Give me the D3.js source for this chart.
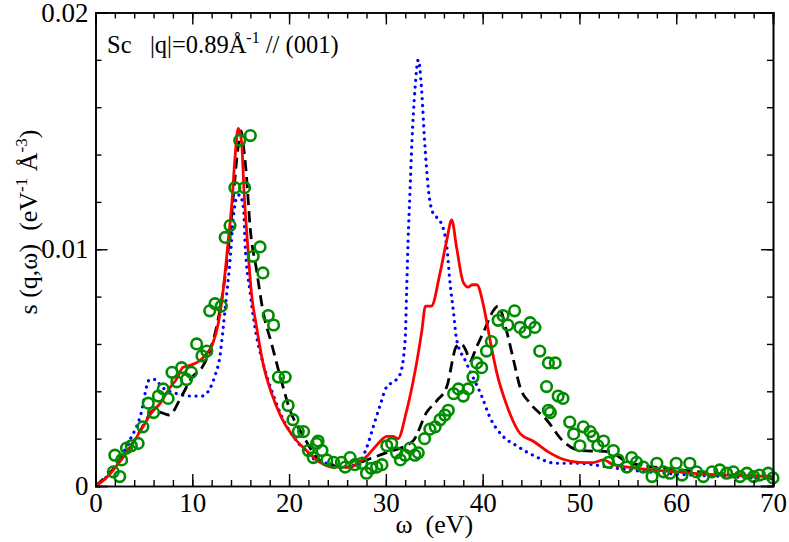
<!DOCTYPE html>
<html>
<head>
<meta charset="utf-8">
<script src="https://cdn.jsdelivr.net/npm/d3@7"></script>
<style>
  body { margin: 0; background: #fff; }
  svg text { font-family: "Liberation Serif", "Times New Roman", serif; fill: #000; }
</style>
</head>
<body>
<svg id="chart" width="789" height="542"></svg>
<script>
// values: omega (eV) and s(q,w)
const redX = [0, 1, 2, 3, 4, 4.9, 5.8, 6.7, 7.6, 8.5, 9.0, 9.8, 10.8, 11.5, 12.1, 12.7, 13.2, 13.7, 14.1, 14.4, 14.75, 15.1, 15.35, 15.7, 16.1, 16.65, 17.3, 18.2, 19.2, 20.4, 21.8, 23.2, 24.5, 26.3, 27.2, 28.0, 29.0, 30.1, 30.7, 31.25, 32.1, 33.0, 33.7, 34.1, 34.7, 35.6, 36.3, 36.8, 37.3, 38.0, 38.5, 38.9, 39.4, 40.1, 40.75, 41.45, 42.5, 43.9, 45.2, 46.95, 48.3, 50, 51.4, 52.5, 53.5, 55, 57, 60, 63, 66, 70];
const redY = [0, 0.0003, 0.00076, 0.0013, 0.0019, 0.0025, 0.0031, 0.0035, 0.0041, 0.0046, 0.005, 0.0051, 0.0053, 0.0056, 0.006, 0.0069, 0.0083, 0.0103, 0.012, 0.0138, 0.0151, 0.0145, 0.0124, 0.0103, 0.0082, 0.0067, 0.0052, 0.0039, 0.0029, 0.0021, 0.0015, 0.001, 0.0008, 0.0008, 0.001, 0.00124, 0.0017, 0.0021, 0.0021, 0.002, 0.0031, 0.0048, 0.0065, 0.0076, 0.0076, 0.009, 0.0104, 0.01124, 0.0101, 0.0086, 0.0084, 0.0085, 0.0085, 0.0076, 0.0062, 0.0048, 0.0034, 0.0022, 0.0019, 0.0014, 0.00113, 0.001, 0.00099, 0.0011, 0.0009, 0.0008, 0.0007, 0.0006, 0.0005, 0.00045, 0.0004];

const blackX = [0, 2, 4, 5, 6, 6.8, 7.6, 8.9, 10, 11, 11.8, 12.5, 13.2, 13.8, 14.3, 14.7, 15.05, 15.3, 15.6, 15.96, 16.65, 17.3, 18.2, 19.1, 20.1, 21.5, 22.85, 24, 26, 28, 30, 32.8, 34.2, 35.25, 36.3, 37.3, 37.8, 38.3, 38.7, 39.4, 40.2, 41.1, 41.6, 42.5, 43.2, 43.85, 44.9, 46.6, 48.3, 50.05, 53.1, 55, 60, 65, 70];
const blackY = [0, 0.0008, 0.0019, 0.0026, 0.0032, 0.0031, 0.003, 0.0038, 0.0046, 0.005, 0.0057, 0.0067, 0.0083, 0.0103, 0.0125, 0.0142, 0.015, 0.0143, 0.0131, 0.011, 0.0091, 0.0074, 0.006, 0.0046, 0.0032, 0.0021, 0.0012, 0.0009, 0.0008, 0.0011, 0.0014, 0.0019, 0.0031, 0.0036, 0.0042, 0.0059, 0.006, 0.0057, 0.0053, 0.0059, 0.0066, 0.0074, 0.0076, 0.0065, 0.0053, 0.0042, 0.0035, 0.0028, 0.0019, 0.0015, 0.00145, 0.001, 0.0007, 0.0005, 0.0004];

const blueX = [0, 2, 3.5, 4.6, 5.6, 6.2, 6.8, 8.4, 9.8, 11.0, 11.8, 12.3, 12.9, 13.2, 13.55, 13.9, 14.2, 14.6, 14.9, 15.3, 15.45, 16, 16.65, 17.3, 18.4, 19.4, 20.8, 22, 23.5, 24.5, 25.5, 27, 28, 28.7, 29.4, 30.1, 30.8, 31.45, 32, 32.15, 32.3, 32.5, 32.7, 33.0, 33.35, 33.7, 34.0, 34.4, 34.9, 35.6, 36.3, 36.6, 37, 37.3, 38.2, 39.0, 39.9, 40.75, 42.1, 43.5, 45.2, 47.6, 50, 51.4, 53.8, 57, 60, 65, 70];
const blueY = [0, 0.0008, 0.0019, 0.0029, 0.0045, 0.0045, 0.0042, 0.0039, 0.0038, 0.0038, 0.0041, 0.0046, 0.0056, 0.0067, 0.0081, 0.0095, 0.0112, 0.0122, 0.0123, 0.0117, 0.0103, 0.0081, 0.0063, 0.0052, 0.0038, 0.0028, 0.0019, 0.0013, 0.001, 0.0009, 0.0008, 0.0009, 0.0016, 0.0025, 0.0034, 0.0042, 0.0044, 0.0047, 0.0062, 0.0083, 0.0104, 0.0125, 0.0146, 0.0167, 0.018, 0.0167, 0.0146, 0.0125, 0.0115, 0.0112, 0.0101, 0.0087, 0.0073, 0.0062, 0.0053, 0.0046, 0.0038, 0.0029, 0.0021, 0.0017, 0.0013, 0.00096, 0.00096, 0.0009, 0.00075, 0.0006, 0.0005, 0.0004, 0.0003];

// experiment (circles)
const expX = [1.84, 2.5, 2.0, 2.7, 3.2, 3.7, 4.4, 4.9, 5.45, 6.0, 6.5, 7.0, 7.5, 7.9, 8.4, 8.9, 9.4, 9.9, 10.45, 11.0, 11.5, 11.8, 12.35, 13.0, 13.4, 13.9, 14.4, 15.4, 14.9, 16.0, 16.3, 17.0, 17.3, 17.85, 18.4, 18.9, 19.6, 19.9, 20.4, 20.95, 21.5, 22.0, 22.85, 22.5, 23.0, 23.4, 23.9, 24.6, 25.4, 26.3, 25.8, 26.8, 27.5, 28.0, 28.5, 29.05, 29.6, 30.1, 30.6, 31.1, 31.5, 32.0, 32.5, 33.0, 33.35, 34.0, 34.55, 35.1, 35.6, 36.1, 36.45, 37.0, 37.5, 38.0, 38.5, 39.0, 39.4, 39.9, 40.4, 40.9, 41.6, 42.1, 42.6, 43.3, 43.85, 44.4, 44.9, 45.4, 45.9, 46.6, 46.8, 46.8, 47.5, 47.8, 48.3, 47.0, 49.0, 49.4, 50.05, 50.4, 51.1, 51.4, 51.9, 52.5, 53.0, 53.5, 54.0, 54.9, 55.4, 55.9, 56.6, 57.5, 58.0, 58.7, 59.35, 60.0, 60.6, 61.4, 62.1, 62.8, 63.7, 64.5, 65.2, 65.9, 66.6, 67.3, 68.0, 68.6, 69.5, 70.0];
const expY = [0.0006, 0.0004, 0.0013, 0.0011, 0.0016, 0.0017, 0.0018, 0.0025, 0.0035, 0.0031, 0.0038, 0.0041, 0.0037, 0.0048, 0.0044, 0.005, 0.0045, 0.0048, 0.006, 0.0055, 0.0057, 0.0074, 0.0077, 0.0076, 0.0105, 0.011, 0.0126, 0.0126, 0.0146, 0.0148, 0.0097, 0.0101, 0.009, 0.0072, 0.0068, 0.0046, 0.0046, 0.0034, 0.0028, 0.0023, 0.0023, 0.0015, 0.0018, 0.0012, 0.0019, 0.0015, 0.0011, 0.001, 0.001, 0.0012, 0.0008, 0.0009, 0.00096, 0.00054, 0.00075, 0.0008, 0.0009, 0.0017, 0.0018, 0.0014, 0.0011, 0.0013, 0.0016, 0.0013, 0.0014, 0.002, 0.0024, 0.0025, 0.0028, 0.003, 0.0032, 0.0039, 0.0041, 0.0038, 0.0041, 0.0046, 0.0052, 0.005, 0.0057, 0.0061, 0.007, 0.0072, 0.0068, 0.0074, 0.0067, 0.0065, 0.0069, 0.0067, 0.0057, 0.0042, 0.0052, 0.0032, 0.0052, 0.0038, 0.0037, 0.0031, 0.0027, 0.0022, 0.0017, 0.0025, 0.0023, 0.0021, 0.0017, 0.0019, 0.001, 0.0015, 0.0011, 0.0008, 0.0012, 0.001, 0.0008, 0.0004, 0.00096, 0.0006, 0.00054, 0.00096, 0.00046, 0.00096, 0.0006, 0.0004, 0.0006, 0.00068, 0.00054, 0.0006, 0.0004, 0.00054, 0.0004, 0.00046, 0.00054, 0.00034];

const xTicks = [0, 10, 20, 30, 40, 50, 60, 70];
const yTicks = [0, 0.01, 0.02];
const yTickLabels = ["0", "0.01", "0.02"];

const serif = '"Liberation Serif", "Times New Roman", serif';

const svg = d3.select("#chart");
const plotLeft = 95.5, plotRight = 773, plotTop = 12.5, plotBottom = 486;

const x = d3.scaleLinear().domain([0, 70]).range([plotLeft, plotRight]);
const y = d3.scaleLinear().domain([0, 0.02]).range([plotBottom, plotTop]);

// clip to the frame
svg.append("defs").append("clipPath").attr("id", "clip")
  .append("rect").attr("x", plotLeft).attr("y", plotTop)
  .attr("width", plotRight - plotLeft).attr("height", plotBottom - plotTop);

const plot = svg.append("g").attr("clip-path", "url(#clip)");

function pairs(xs, ys) { return xs.map((v, i) => [v, ys[i]]); }

const line = d3.line()
  .x(d => x(d[0]))
  .y(d => y(d[1]))
  .curve(d3.curveMonotoneX);

plot.append("path").datum(pairs(blueX, blueY))
  .attr("d", line).attr("fill", "none")
  .attr("stroke", "#0000ff").attr("stroke-width", 3.2)
  .attr("stroke-linecap", "round").attr("stroke-dasharray", "0.1,6.6");

plot.append("path").datum(pairs(blackX, blackY))
  .attr("d", line).attr("fill", "none")
  .attr("stroke", "#000").attr("stroke-width", 2.8)
  .attr("stroke-dasharray", "11,6");

plot.append("path").datum(pairs(redX, redY))
  .attr("d", line).attr("fill", "none")
  .attr("stroke", "#ff0000").attr("stroke-width", 2.8);

svg.append("g").selectAll("circle").data(pairs(expX, expY)).enter().append("circle")
  .attr("cx", d => x(d[0]))
  .attr("cy", d => y(d[1]))
  .attr("r", 5.3)
  .attr("fill", "none")
  .attr("stroke", "#008c00")
  .attr("stroke-width", 2.6);

// frame with inward ticks on all sides
const axes = svg.append("g");
const minorX = d3.range(0, 71, 2);
const minorY = d3.range(0, 0.0201, 0.002);
axes.append("g").attr("transform", `translate(0,${plotBottom})`)
  .call(d3.axisBottom(x).tickValues(minorX).tickSize(-6).tickFormat(""));
axes.append("g").attr("transform", `translate(0,${plotBottom})`)
  .call(d3.axisBottom(x).tickValues(xTicks).tickSize(-12).tickPadding(7).tickFormat(d3.format("d")));
axes.append("g").attr("transform", `translate(0,${plotTop})`)
  .call(d3.axisTop(x).tickValues(minorX).tickSize(-6).tickFormat(""));
axes.append("g").attr("transform", `translate(0,${plotTop})`)
  .call(d3.axisTop(x).tickValues(xTicks).tickSize(-12).tickFormat(""));
axes.append("g").attr("transform", `translate(${plotLeft},0)`)
  .call(d3.axisLeft(y).tickValues(minorY).tickSize(-6).tickFormat(""));
axes.append("g").attr("transform", `translate(${plotLeft},0)`)
  .call(d3.axisLeft(y).tickValues(yTicks).tickSize(-12).tickPadding(7)
    .tickFormat((d, i) => yTickLabels[i]));
axes.append("g").attr("transform", `translate(${plotRight},0)`)
  .call(d3.axisRight(y).tickValues(minorY).tickSize(-6).tickFormat(""));
axes.append("g").attr("transform", `translate(${plotRight},0)`)
  .call(d3.axisRight(y).tickValues(yTicks).tickSize(-12).tickFormat(""));

axes.selectAll(".domain").attr("stroke", "#000").attr("stroke-width", 1.6);
axes.selectAll(".tick line").attr("stroke", "#000").attr("stroke-width", 1.4);
axes.selectAll(".tick text")
  .style("font-family", serif)
  .style("font-size", "27px");

// titles
svg.append("text")
  .attr("x", (plotLeft + plotRight) / 2).attr("y", 533)
  .attr("text-anchor", "middle")
  .style("font-size", "26px")
  .style("white-space", "pre")
  .text("ω  (eV)");

const yt = svg.append("text")
  .attr("transform", "translate(37,222) rotate(-90)")
  .attr("text-anchor", "middle")
  .style("font-size", "26px")
  .style("white-space", "pre");
yt.append("tspan").text("s (q,ω)  (eV");
yt.append("tspan").attr("dy", -10).style("font-size", "17px").text("-1");
yt.append("tspan").attr("dy", 10).text(" Å");
yt.append("tspan").attr("dy", -10).style("font-size", "17px").text("-3");
yt.append("tspan").attr("dy", 10).text(")");

const note = svg.append("text")
  .attr("x", 107).attr("y", 53)
  .style("font-size", "24.5px")
  .style("white-space", "pre");
note.append("tspan").text("Sc   |q|=0.89Å");
note.append("tspan").attr("dy", -10).style("font-size", "16px").text("-1");
note.append("tspan").attr("dy", 10).text(" // (001)");
</script>
</body>
</html>
